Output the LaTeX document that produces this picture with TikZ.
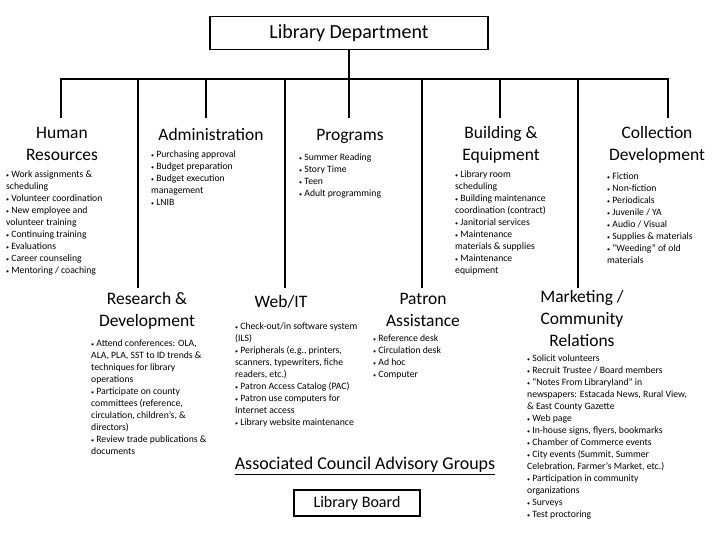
\documentclass[tikz,border=0pt]{standalone}
\usepackage{fontspec}
\setmainfont{Carlito}
\newcommand{\itemdot}{\raisebox{0.6pt}{\fontsize{6}{6}\selectfont•}\ }
\begin{document}
\begin{tikzpicture}[x=1pt, y=-1pt,
    box/.style={draw, line width=1.8pt},
    head/.style={align=center, inner sep=0pt, font=\fontsize{17.5}{22}\selectfont},
    items/.style={anchor=north west, align=left, inner sep=0pt, font=\fontsize{9.7}{12}\selectfont},
    bar/.style={line width=2.5pt}]
    \useasboundingbox (0,0) rectangle (720,540);

    \node[style=box, minimum width=278pt, minimum height=33pt, font=\fontsize{20}{22}\selectfont] (dept) at (349,33) {Library Department};

    % ends of the drops
    \coordinate (busL) at (61,79);
    \coordinate (hrTop) at (61,118);
    \coordinate (adTop) at (206,118);
    \coordinate (prTop) at (349,118);
    \coordinate (beTop) at (500,118);
    \coordinate (cdTop) at (668,118);
    \coordinate (rdTop) at (138,288);
    \coordinate (wiTop) at (285,288);
    \coordinate (paTop) at (422,288);
    \coordinate (mcTop) at (578,288);

    \draw[bar] (hrTop) -- (hrTop |- busL) -- (cdTop |- busL) -- (cdTop);
    \draw[bar] (dept.south) -- (prTop);
    \draw[bar] (adTop |- busL) -- (adTop);
    \draw[bar] (beTop |- busL) -- (beTop);
    \draw[bar] (rdTop |- busL) -- (rdTop);
    \draw[bar] (wiTop |- busL) -- (wiTop);
    \draw[bar] (paTop |- busL) -- (paTop);
    \draw[bar] (mcTop |- busL) -- (mcTop);

    % first row
    \node[style=head] (hr) at (62,144) {Human\\Resources};
    \node[style=items] (hrList) at (6,171) {\itemdot Work assignments \&\\scheduling\\\itemdot Volunteer coordination\\\itemdot New employee and\\volunteer training\\\itemdot Continuing training\\\itemdot Evaluations\\\itemdot Career counseling\\\itemdot Mentoring / coaching};

    \node[style=head] (ad) at (211,134) {Administration};
    \node[style=items] (adList) at (151,151) {\itemdot Purchasing approval\\\itemdot Budget preparation\\\itemdot Budget execution\\management\\\itemdot LNIB};

    \node[style=head] (pr) at (350,136) {Programs};
    \node[style=items] (prList) at (299,154) {\itemdot Summer Reading\\\itemdot Story Time\\\itemdot Teen\\\itemdot Adult programming};

    \node[style=head] (be) at (501,145) {Building \&\\Equipment};
    \node[style=items] (beList) at (455,171) {\itemdot Library room\\scheduling\\\itemdot Building maintenance\\coordination (contract)\\\itemdot Janitorial services\\\itemdot Maintenance\\materials \& supplies\\\itemdot Maintenance\\equipment};

    \node[style=head] (cd) at (657,145) {Collection\\Development};
    \node[style=items] (cdList) at (607,173) {\itemdot Fiction\\\itemdot Non-fiction\\\itemdot Periodicals\\\itemdot Juvenile / YA\\\itemdot Audio / Visual\\\itemdot Supplies \& materials\\\itemdot “Weeding” of old\\materials};

    % second row
    \node[style=head] (rd) at (147,311) {Research \&\\Development};
    \node[style=items] (rdList) at (91,340) {\itemdot Attend conferences: OLA,\\ALA, PLA, SST to ID trends \&\\techniques for library\\operations\\\itemdot Participate on county\\committees (reference,\\circulation, children’s, \&\\directors)\\\itemdot Review trade publications \&\\documents};

    \node[style=head] (wi) at (281,302) {Web/IT};
    \node[style=items] (wiList) at (235,323) {\itemdot Check-out/in software system\\(ILS)\\\itemdot Peripherals (e.g., printers,\\scanners, typewriters, fiche\\readers, etc.)\\\itemdot Patron Access Catalog (PAC)\\\itemdot Patron use computers for\\Internet access\\\itemdot Library website maintenance};

    \node[style=head] (pa) at (423,310) {Patron\\Assistance};
    \node[style=items] (paList) at (373,335) {\itemdot Reference desk\\\itemdot Circulation desk\\\itemdot Ad hoc\\\itemdot Computer};

    \node[style=head] (mc) at (582,318) {Marketing /\\Community\\Relations};
    \node[style=items] (mcList) at (527,355) {\itemdot Solicit volunteers\\\itemdot Recruit Trustee / Board members\\\itemdot “Notes From Libraryland” in\\newspapers: Estacada News, Rural View,\\\& East County Gazette\\\itemdot Web page\\\itemdot In-house signs, flyers, bookmarks\\\itemdot Chamber of Commerce events\\\itemdot City events (Summit, Summer\\Celebration, Farmer’s Market, etc.)\\\itemdot Participation in community\\organizations\\\itemdot Surveys\\\itemdot Test proctoring};

    % advisory groups
    \node[font=\fontsize{18}{20}\selectfont] (acag) at (365,466) {\underline{Associated Council Advisory Groups}};
    \node[style=box, line width=1.5pt, minimum width=126pt, minimum height=26pt, font=\fontsize{16}{18}\selectfont] (board) at (357,503) {Library Board};
\end{tikzpicture}
\end{document}
